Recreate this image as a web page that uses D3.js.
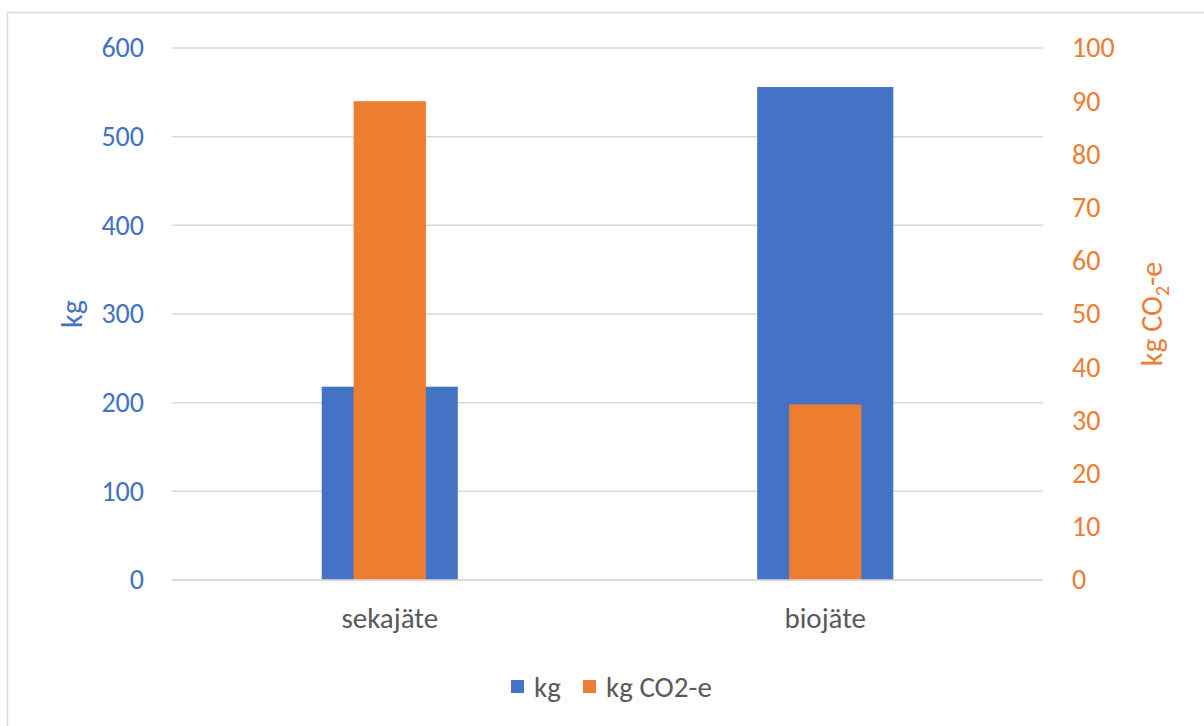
<!DOCTYPE html>
<html>
<head>
<meta charset="utf-8">
<script src="https://cdn.jsdelivr.net/npm/d3@7"></script>
<style>
  html, body { margin: 0; padding: 0; background: #fff; }
  svg { display: block; font-family: Carlito, Calibri, Lato, sans-serif; }
</style>
</head>
<body>
<svg id="chart" width="1204" height="726"></svg>
<script>
const categories = ["sekajäte", "biojäte"];
const kgValues = [218, 556];
const co2Values = [90, 33];
const leftTicks = [0, 100, 200, 300, 400, 500, 600];
const rightTicks = [0, 10, 20, 30, 40, 50, 60, 70, 80, 90, 100];
const seriesNames = ["kg", "kg CO2-e"];

const blue = "#4472C4", orange = "#ED7D31", grid = "#d9d9d9", gray = "#595959";
const FONT = "Carlito, Calibri, Lato, sans-serif";
const svg = d3.select("#chart");

// outer border
svg.append("rect").attr("x", 7.5).attr("y", 12.5).attr("width", 1204).attr("height", 730)
  .attr("fill", "none").attr("stroke", grid).attr("stroke-width", 1.5);

const pLeft = 172, pRight = 1043, pTop = 48, pBottom = 580;
const x = d3.scaleBand().domain(categories).range([pLeft, pRight]);
const yL = d3.scaleLinear().domain([0, 600]).range([pBottom, pTop]);
const yR = d3.scaleLinear().domain([0, 100]).range([pBottom, pTop]);

// gridlines
svg.append("g").selectAll("line").data(leftTicks).join("line")
  .attr("x1", pLeft).attr("x2", pRight)
  .attr("y1", d => yL(d)).attr("y2", d => yL(d))
  .attr("stroke", grid).attr("stroke-width", 1.5);

// left axis labels
const gL = svg.append("g").attr("transform", `translate(${pLeft - 28},0)`)
  .call(d3.axisLeft(yL).tickValues(leftTicks).tickSize(0).tickPadding(0));
gL.select(".domain").remove();
gL.selectAll("text").attr("fill", blue).attr("font-size", 28).attr("font-family", FONT);

// right axis labels
const gR = svg.append("g").attr("transform", `translate(${pRight + 29},0)`)
  .call(d3.axisRight(yR).tickValues(rightTicks).tickSize(0).tickPadding(0));
gR.select(".domain").remove();
gR.selectAll("text").attr("fill", orange).attr("font-size", 28).attr("font-family", FONT);

// bars kg (primary)
const bw = x.bandwidth() * 0.3125;
svg.append("g").selectAll("rect").data(categories).join("rect")
  .attr("x", (d) => x(d) + x.bandwidth() / 2 - bw / 2)
  .attr("width", bw)
  .attr("y", (d, i) => yL(kgValues[i]))
  .attr("height", (d, i) => yL(0) - yL(kgValues[i]))
  .attr("fill", blue);

// bars CO2 (secondary)
const ow = x.bandwidth() * 0.166;
svg.append("g").selectAll("rect").data(categories).join("rect")
  .attr("x", (d) => x(d) + x.bandwidth() / 2 - ow / 2)
  .attr("width", ow)
  .attr("y", (d, i) => yR(co2Values[i]))
  .attr("height", (d, i) => yR(0) - yR(co2Values[i]))
  .attr("fill", orange);

// baseline
svg.append("line").attr("x1", pLeft).attr("x2", pRight).attr("y1", pBottom).attr("y2", pBottom)
  .attr("stroke", grid).attr("stroke-width", 1.5);

// category labels
const gX = svg.append("g").attr("transform", `translate(0,${pBottom + 48})`)
  .call(d3.axisBottom(x).tickSize(0).tickPadding(0));
gX.select(".domain").remove();
gX.selectAll("text").attr("fill", gray).attr("font-size", 29).attr("dy", 0)
  .attr("font-family", FONT);

// axis titles
svg.append("text").attr("transform", "translate(82,314) rotate(-90)")
  .attr("text-anchor", "middle").attr("fill", blue).attr("font-size", 30).text("kg");

const t2 = svg.append("text").attr("transform", "translate(1162,314) rotate(-90)")
  .attr("text-anchor", "middle").attr("fill", orange).attr("font-size", 30);
t2.append("tspan").text("kg CO");
t2.append("tspan").attr("font-size", 20).attr("dy", 7).text("2");
t2.append("tspan").attr("dy", -7).text("-e");

// legend
const legend = svg.append("g");
const items = [{name: seriesNames[0], color: blue, x: 511}, {name: seriesNames[1], color: orange, x: 583}];
items.forEach(it => {
  legend.append("rect").attr("x", it.x).attr("y", 680).attr("width", 13).attr("height", 13).attr("fill", it.color);
  legend.append("text").attr("x", it.x + 23).attr("y", 697).attr("fill", gray).attr("font-size", 29).text(it.name);
});
</script>
</body>
</html>
